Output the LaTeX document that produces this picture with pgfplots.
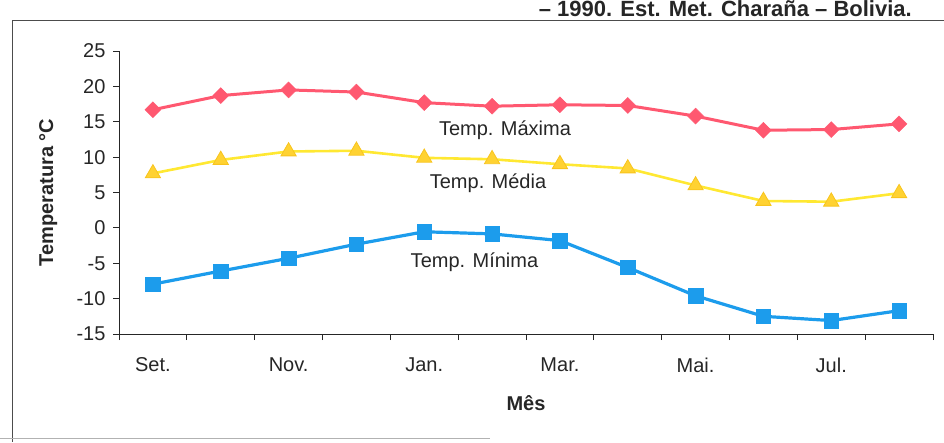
\documentclass[border=0pt]{standalone}
\usepackage{fontspec}
\setmainfont{Liberation Sans}
\usepackage{pgfplots}
\usepackage{pgfplotstable}
\pgfplotsset{compat=1.18}

\definecolor{maxred}{RGB}{255,88,112}
\definecolor{medyellow}{RGB}{255,232,50}
\definecolor{medfill}{RGB}{255,210,50}
\definecolor{mededge}{RGB}{248,196,30}
\definecolor{minblue}{RGB}{28,156,236}
\definecolor{inkgray}{RGB}{38,38,38}

% Monthly means, Set. (0) to Ago. (11)
\pgfplotstableread{
idx tmax tmed tmin
0  16.7  7.7  -7.95
1  18.7  9.6  -6.1
2  19.5  10.8 -4.3
3  19.2  10.9 -2.3
4  17.7  9.9  -0.55
5  17.2  9.7  -0.85
6  17.4  9.0  -1.8
7  17.3  8.4  -5.6
8  15.8  6.0  -9.6
9  13.8  3.8  -12.5
10 13.9  3.7  -13.1
11 14.7  4.9  -11.7
}\temps

\begin{document}
\begin{tikzpicture}[x=1pt,y=1pt]
\clip (0,0) rectangle (944,-442);
% chart area border and title line
\draw[black!70, line width=1pt] (944,-20) -- (12,-20) -- (12,-442);
\draw[black!30, line width=1.2pt] (0,-438.5) -- (490,-438.5);
\node[anchor=base east, font=\bfseries\fontsize{22}{26}\selectfont, text=inkgray, inner sep=0pt]
  at (912,-16.5) {– 1990. Est. Met. Charaña – Bolivia.};

\begin{axis}[
  at={(119pt,-334pt)}, anchor=south west,
  scale only axis, width=814pt, height=283pt,
  xmin=-0.5, xmax=11.5, ymin=-15, ymax=25,
  axis x line=bottom, axis y line=left,
  axis line style={-, inkgray, line width=0.9pt},
  xtick={-0.5,0.5,1.5,2.5,3.5,4.5,5.5,6.5,7.5,8.5,9.5,10.5,11.5},
  xticklabels={},
  extra x ticks={0,2,4,6,8,10},
  extra x tick labels={Set.,Nov.,Jan.,Mar.,Mai.,Jul.},
  extra x tick style={major tick length=0pt},
  ytick={-15,-10,...,25},
  tick style={inkgray, line width=0.8pt},
  major tick length=6pt,
  tick align=outside,
  tick label style={font=\fontsize{20}{24}\selectfont, text=inkgray},
  /pgf/number format/assume math mode=true,
  xticklabel style={yshift=-20pt},
  yticklabel style={xshift=-4pt},
  xlabel={Mês}, ylabel={Temperatura °C},
  label style={font=\bfseries\fontsize{20}{24}\selectfont, text=inkgray},
  xlabel style={at={(axis description cs:0.5,-0.244)}, anchor=center},
  ylabel style={at={(axis description cs:-0.087,0.5)}, anchor=center},
  clip=false,
]
\addplot[maxred, line width=3pt, mark=square*, mark size=5.6pt,
  mark options={rotate=45, solid, fill=maxred, draw=maxred, line width=0.5pt}]
  table[x=idx, y=tmax] {\temps};
\addplot[medyellow, line width=2.6pt, mark=triangle*, mark size=8.8pt,
  mark options={solid, fill=medfill, draw=mededge, line width=0.8pt}]
  table[x=idx, y=tmed] {\temps};
\addplot[minblue, line width=3.2pt, mark=square*, mark size=7.2pt,
  mark options={solid, fill=minblue, draw=minblue, line width=0.5pt}]
  table[x=idx, y=tmin] {\temps};

\node[font=\fontsize{20}{24}\selectfont, text=inkgray] at (axis cs:5.19,13.8) {Temp. Máxima};
\node[font=\fontsize{20}{24}\selectfont, text=inkgray] at (axis cs:4.94,6.36) {Temp. Média};
\node[font=\fontsize{20}{24}\selectfont, text=inkgray] at (axis cs:4.74,-4.8) {Temp. Mínima};
\end{axis}
\end{tikzpicture}
\end{document}
